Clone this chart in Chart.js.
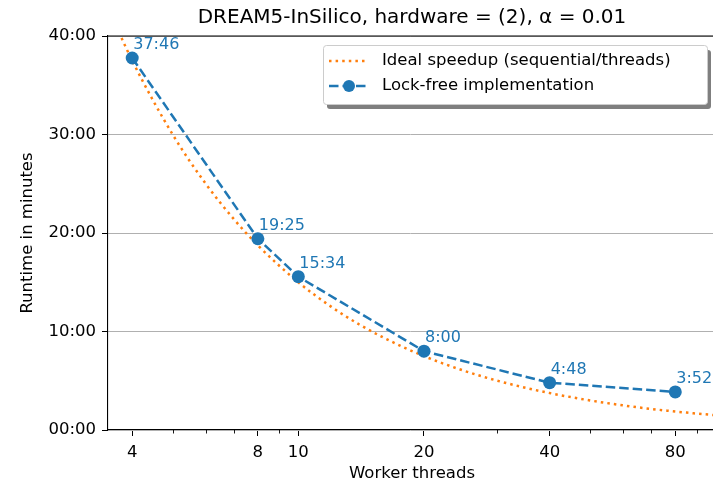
<!DOCTYPE html>
<html>
<head>
<meta charset="utf-8">
<script src="https://cdn.jsdelivr.net/npm/chart.js@4.4.1/dist/chart.umd.min.js"></script>
<style>
  html, body { margin: 0; padding: 0; background: #fff; }
  #chart { display: block; }
</style>
</head>
<body>
<canvas id="chart" width="713" height="484"></canvas>
<script>
// measured runs (lock-free), runtime in minutes
const threads = [4, 8, 10, 20, 40, 80];
const runtime = [37.767, 19.417, 15.567, 8.0, 4.8, 3.867];
const runtimeLabels = ['37:46', '19:25', '15:34', '8:00', '4:48', '3:52'];

// ideal speedup curve (sequential/threads)
const idealThreads = [3.5, 4, 5, 6, 7, 8, 10, 12, 14, 16, 20, 25, 30, 35, 40, 50, 60, 70, 80, 90, 100];
const idealRuntime = [42.86, 37.5, 30, 25, 21.43, 18.75, 15, 12.5, 10.71, 9.38, 7.5, 6, 5, 4.29, 3.75, 3, 2.5, 2.14, 1.88, 1.67, 1.5];

const xMajorTicks = [4, 8, 10, 20, 40, 80];
const xMinorTicks = [5, 6, 7, 9, 30, 50, 60, 70, 90];
const yTicks = [0, 10, 20, 30, 40];

const FONT = 'DejaVu Sans';
const BLUE = '#1f77b4';
const ORANGE = '#ff7f0e';

const decorations = {
  id: 'decorations',
  afterDraw(chart) {
    const { ctx, chartArea: a, scales } = chart;
    const x = scales.x;
    ctx.save();

    // top spine
    ctx.strokeStyle = '#000';
    ctx.lineWidth = 1.1;
    ctx.beginPath();
    ctx.moveTo(a.left, a.top);
    ctx.lineTo(a.right, a.top);
    ctx.stroke();

    // minor ticks on the log axis
    ctx.lineWidth = 0.9;
    xMinorTicks.forEach((v) => {
      const px = Math.round(x.getPixelForValue(v)) + 0.5;
      ctx.beginPath();
      ctx.moveTo(px, a.bottom);
      ctx.lineTo(px, a.bottom + 3.5);
      ctx.stroke();
    });

    // point labels
    const meta = chart.getDatasetMeta(1);
    ctx.fillStyle = BLUE;
    ctx.font = `16px "${FONT}"`;
    ctx.textAlign = 'left';
    ctx.textBaseline = 'middle';
    meta.data.forEach((pt, i) => {
      ctx.fillText(runtimeLabels[i], pt.x + 1, pt.y - 13);
    });

    // title and axis labels
    ctx.fillStyle = '#000';
    ctx.textAlign = 'center';
    ctx.font = `20px "${FONT}"`;
    ctx.fillText('DREAM5-InSilico, hardware = (2), \u03b1 = 0.01', 412, 18);
    ctx.font = `16.5px "${FONT}"`;
    ctx.fillText('Worker threads', 412, 474);
    ctx.translate(28, (a.top + a.bottom) / 2);
    ctx.rotate(-Math.PI / 2);
    ctx.fillText('Runtime in minutes', 0, 0);
    ctx.setTransform(1, 0, 0, 1, 0, 0);

    // legend box with shadow
    const bx = 323, by = 45, bw = 384, bh = 59;
    ctx.fillStyle = 'rgba(0,0,0,0.5)';
    roundRect(ctx, bx + 4, by + 5, bw, bh, 3);
    ctx.fill();
    ctx.fillStyle = '#fff';
    ctx.strokeStyle = '#cccccc';
    ctx.lineWidth = 1;
    roundRect(ctx, bx + 0.5, by + 0.5, bw, bh, 3);
    ctx.fill();
    ctx.stroke();

    const ds = chart.data.datasets;
    // entry 1: dotted orange
    ctx.strokeStyle = ORANGE;
    ctx.lineWidth = 2.5;
    ctx.setLineDash([2.5, 4.1]);
    ctx.beginPath();
    ctx.moveTo(329, 61);
    ctx.lineTo(368, 61);
    ctx.stroke();
    // entry 2: dashed blue with marker
    ctx.strokeStyle = BLUE;
    ctx.setLineDash([9.5, 4]);
    ctx.beginPath();
    ctx.moveTo(329, 86);
    ctx.lineTo(369, 86);
    ctx.stroke();
    ctx.setLineDash([]);
    ctx.fillStyle = BLUE;
    ctx.beginPath();
    ctx.arc(349, 86, 6, 0, Math.PI * 2);
    ctx.fill();

    ctx.fillStyle = '#000';
    ctx.textAlign = 'left';
    ctx.font = `16.5px "${FONT}"`;
    ctx.fillText(ds[0].label, 382, 61);
    ctx.fillText(ds[1].label, 382, 86);
    ctx.restore();
  },
};

function roundRect(ctx, x, y, w, h, r) {
  ctx.beginPath();
  ctx.moveTo(x + r, y);
  ctx.lineTo(x + w - r, y);
  ctx.arcTo(x + w, y, x + w, y + r, r);
  ctx.lineTo(x + w, y + h - r);
  ctx.arcTo(x + w, y + h, x + w - r, y + h, r);
  ctx.lineTo(x + r, y + h);
  ctx.arcTo(x, y + h, x, y + h - r, r);
  ctx.lineTo(x, y + r);
  ctx.arcTo(x, y, x + r, y, r);
  ctx.closePath();
}

new Chart(document.getElementById('chart'), {
  type: 'line',
  data: {
    datasets: [
      {
        label: 'Ideal speedup (sequential/threads)',
        data: idealThreads.map((t, i) => ({ x: t, y: idealRuntime[i] })),
        borderColor: ORANGE,
        borderWidth: 2.5,
        borderDash: [2.5, 4.1],
        pointRadius: 0,
        cubicInterpolationMode: 'monotone',
        fill: false,
        order: 2,
      },
      {
        label: 'Lock-free implementation',
        data: threads.map((t, i) => ({ x: t, y: runtime[i] })),
        borderColor: BLUE,
        backgroundColor: BLUE,
        borderWidth: 2.5,
        borderDash: [9.5, 4],
        pointRadius: 6.5,
        pointBorderWidth: 0,
        pointBackgroundColor: BLUE,
        tension: 0,
        fill: false,
        clip: 8,
        order: 1,
      },
    ],
  },
  options: {
    responsive: false,
    animation: false,
    devicePixelRatio: 1,
    layout: { autoPadding: false, padding: { top: 36, left: 0, right: 0, bottom: 0 } },
    plugins: {
      legend: { display: false },
      tooltip: { enabled: false },
      title: { display: false },
    },
    scales: {
      x: {
        type: 'logarithmic',
        min: 3.5,
        max: 98.5,
        afterBuildTicks: (scale) => {
          scale.ticks = xMajorTicks.map((v) => ({ value: v }));
        },
        afterFit: (scale) => {
          scale.height = 54;
          scale.paddingLeft = 0;
          scale.paddingRight = 0;
        },
        ticks: {
          autoSkip: false,
          maxRotation: 0,
          padding: 7,
          color: '#000',
          font: { family: FONT, size: 16.5 },
          callback: (v) => String(v),
        },
        grid: { drawOnChartArea: false, drawTicks: true, tickLength: 6, tickColor: '#000', tickWidth: 1 },
        border: { display: true, color: '#000', width: 1.1 },
      },
      y: {
        type: 'linear',
        min: 0,
        max: 40,
        afterBuildTicks: (scale) => {
          scale.ticks = yTicks.map((v) => ({ value: v }));
        },
        afterFit: (scale) => {
          scale.width = 108;
          scale.paddingTop = 0;
          scale.paddingBottom = 0;
        },
        ticks: {
          padding: 6,
          color: '#000',
          font: { family: FONT, size: 16.5 },
          callback: (v) => String(v).padStart(2, '0') + ':00',
        },
        grid: { color: '#b0b0b0', lineWidth: 1, tickLength: 6, tickColor: '#000', tickWidth: 1 },
        border: { display: true, color: '#000', width: 1.1 },
      },
    },
  },
  plugins: [decorations],
});
</script>
</body>
</html>
